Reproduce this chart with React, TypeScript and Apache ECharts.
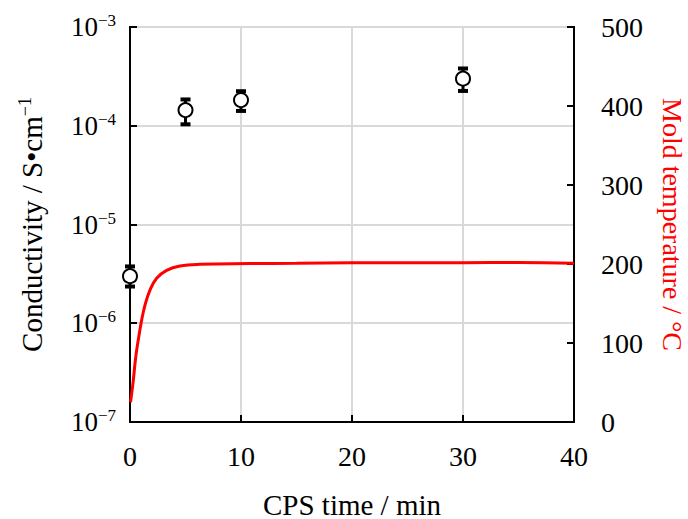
import React, { useEffect, useRef } from "react";
import * as echarts from "echarts";

const cpsTime = [0, 5, 10, 30];
const conductivity = [3.0e-6, 1.44e-4, 1.82e-4, 3.0e-4];
const condLow = [2.3e-6, 1.01e-4, 1.38e-4, 2.2e-4];
const condHigh = [3.85e-6, 1.89e-4, 2.29e-4, 3.89e-4];

const tempTime = [0.05, 0.3, 0.45, 0.6, 0.84, 1.05, 1.35, 1.8, 2.4, 3.3, 4.5, 6.3, 10.8, 15, 20, 25, 30, 35, 40];
const moldTemp = [25, 53, 74, 91, 112, 129, 148, 167, 182, 192, 197.5, 199.6, 200.5, 201, 201.5, 201.5, 201.5, 202, 201];

const FONT = "Liberation Serif";

export default function App() {
  const ref = useRef<HTMLDivElement>(null);
  useEffect(() => {
    if (!ref.current) return;
    const chart = echarts.init(ref.current, undefined, { renderer: "svg" });
    const errData = cpsTime.map((t, i) => [t, condLow[i], condHigh[i]]);
    chart.setOption({
      animation: false,
      backgroundColor: "#fff",
      grid: {
        left: 130, top: 27, right: 114, bottom: 97,
        show: true, borderColor: "#000", borderWidth: 2,
        containLabel: false, outerBoundsMode: "none",
      },
      xAxis: {
        type: "value",
        min: 0,
        max: 40,
        interval: 10,
        name: "CPS time / min",
        nameLocation: "middle",
        nameGap: 68,
        nameTextStyle: { fontFamily: FONT, fontSize: 29, color: "#000" },
        axisLine: { show: true, lineStyle: { color: "#000", width: 2 } },
        axisTick: { show: true, inside: true, length: 7, lineStyle: { color: "#000", width: 2 } },
        axisLabel: { fontFamily: FONT, fontSize: 28, color: "#000", margin: 20 },
        splitLine: { show: true, lineStyle: { color: "#d9d9d9", width: 2 } },
      },
      yAxis: [
        {
          type: "log",
          logBase: 10,
          min: 1e-7,
          max: 1e-3,
          position: "left",
          name: "{a|Conductivity / S•cm}{s|−1}",
          nameLocation: "middle",
          nameRotate: 90,
          nameGap: 82,
          nameTextStyle: {
            rich: {
              a: { fontFamily: FONT, fontSize: 29, color: "#000", lineHeight: 32 },
              s: { fontFamily: FONT, fontSize: 18, color: "#000", verticalAlign: "top", lineHeight: 32 },
            },
          },
          axisLine: { show: true, lineStyle: { color: "#000", width: 2 } },
          axisTick: { show: true, inside: true, length: 7, lineStyle: { color: "#000", width: 2 } },
          minorTick: { show: false },
          axisLabel: {
            margin: 14,
            formatter: (v: number) => {
              const e = Math.round(Math.log10(v));
              return `{b|10}{s|−${-e}}`;
            },
            rich: {
              b: { fontFamily: FONT, fontSize: 27, color: "#000", lineHeight: 30 },
              s: { fontFamily: FONT, fontSize: 17, color: "#000", verticalAlign: "top", lineHeight: 30 },
            },
          },
          splitLine: { show: true, lineStyle: { color: "#d9d9d9", width: 2 } },
        },
        {
          type: "value",
          min: 0,
          max: 500,
          interval: 100,
          position: "right",
          name: "Mold temperature / °C",
          nameLocation: "middle",
          nameRotate: -90,
          nameGap: 84,
          nameTextStyle: { fontFamily: FONT, fontSize: 28, color: "#ff0000" },
          axisLine: { show: true, lineStyle: { color: "#000", width: 2 } },
          axisTick: { show: true, inside: true, length: 7, lineStyle: { color: "#000", width: 2 } },
          axisLabel: { fontFamily: FONT, fontSize: 28, color: "#000", margin: 27 },
          splitLine: { show: false },
        },
      ],
      series: [
        {
          type: "line",
          yAxisIndex: 1,
          data: tempTime.map((t, i) => [t, moldTemp[i]]),
          smooth: 0.4,
          showSymbol: false,
          lineStyle: { color: "#ff0000", width: 3 },
          z: 3,
        },
        {
          type: "custom",
          yAxisIndex: 0,
          data: errData,
          z: 4,
          renderItem: (params: any, api: any) => {
            const x = api.value(0);
            const lo = api.coord([x, api.value(1)]);
            const hi = api.coord([x, api.value(2)]);
            const hw = 5;
            return {
              type: "group",
              children: [
                { type: "line", shape: { x1: lo[0], y1: lo[1], x2: hi[0], y2: hi[1] }, style: { stroke: "#000", lineWidth: 3 } },
                { type: "rect", shape: { x: hi[0] - hw, y: hi[1] - 1, width: hw * 2, height: 4 }, style: { fill: "#000" } },
                { type: "rect", shape: { x: lo[0] - hw, y: lo[1] - 3, width: hw * 2, height: 4 }, style: { fill: "#000" } },
              ],
            };
          },
        },
        {
          type: "scatter",
          yAxisIndex: 0,
          data: cpsTime.map((t, i) => [t, conductivity[i]]),
          symbol: "circle",
          symbolSize: 14,
          itemStyle: { color: "#fff", borderColor: "#000", borderWidth: 2, opacity: 1 },
          z: 5,
        },
      ],
    });
    return () => chart.dispose();
  }, []);
  return <div ref={ref} style={{ position: "absolute", left: 0, top: 0, width: 688, height: 519 }} />;
}
